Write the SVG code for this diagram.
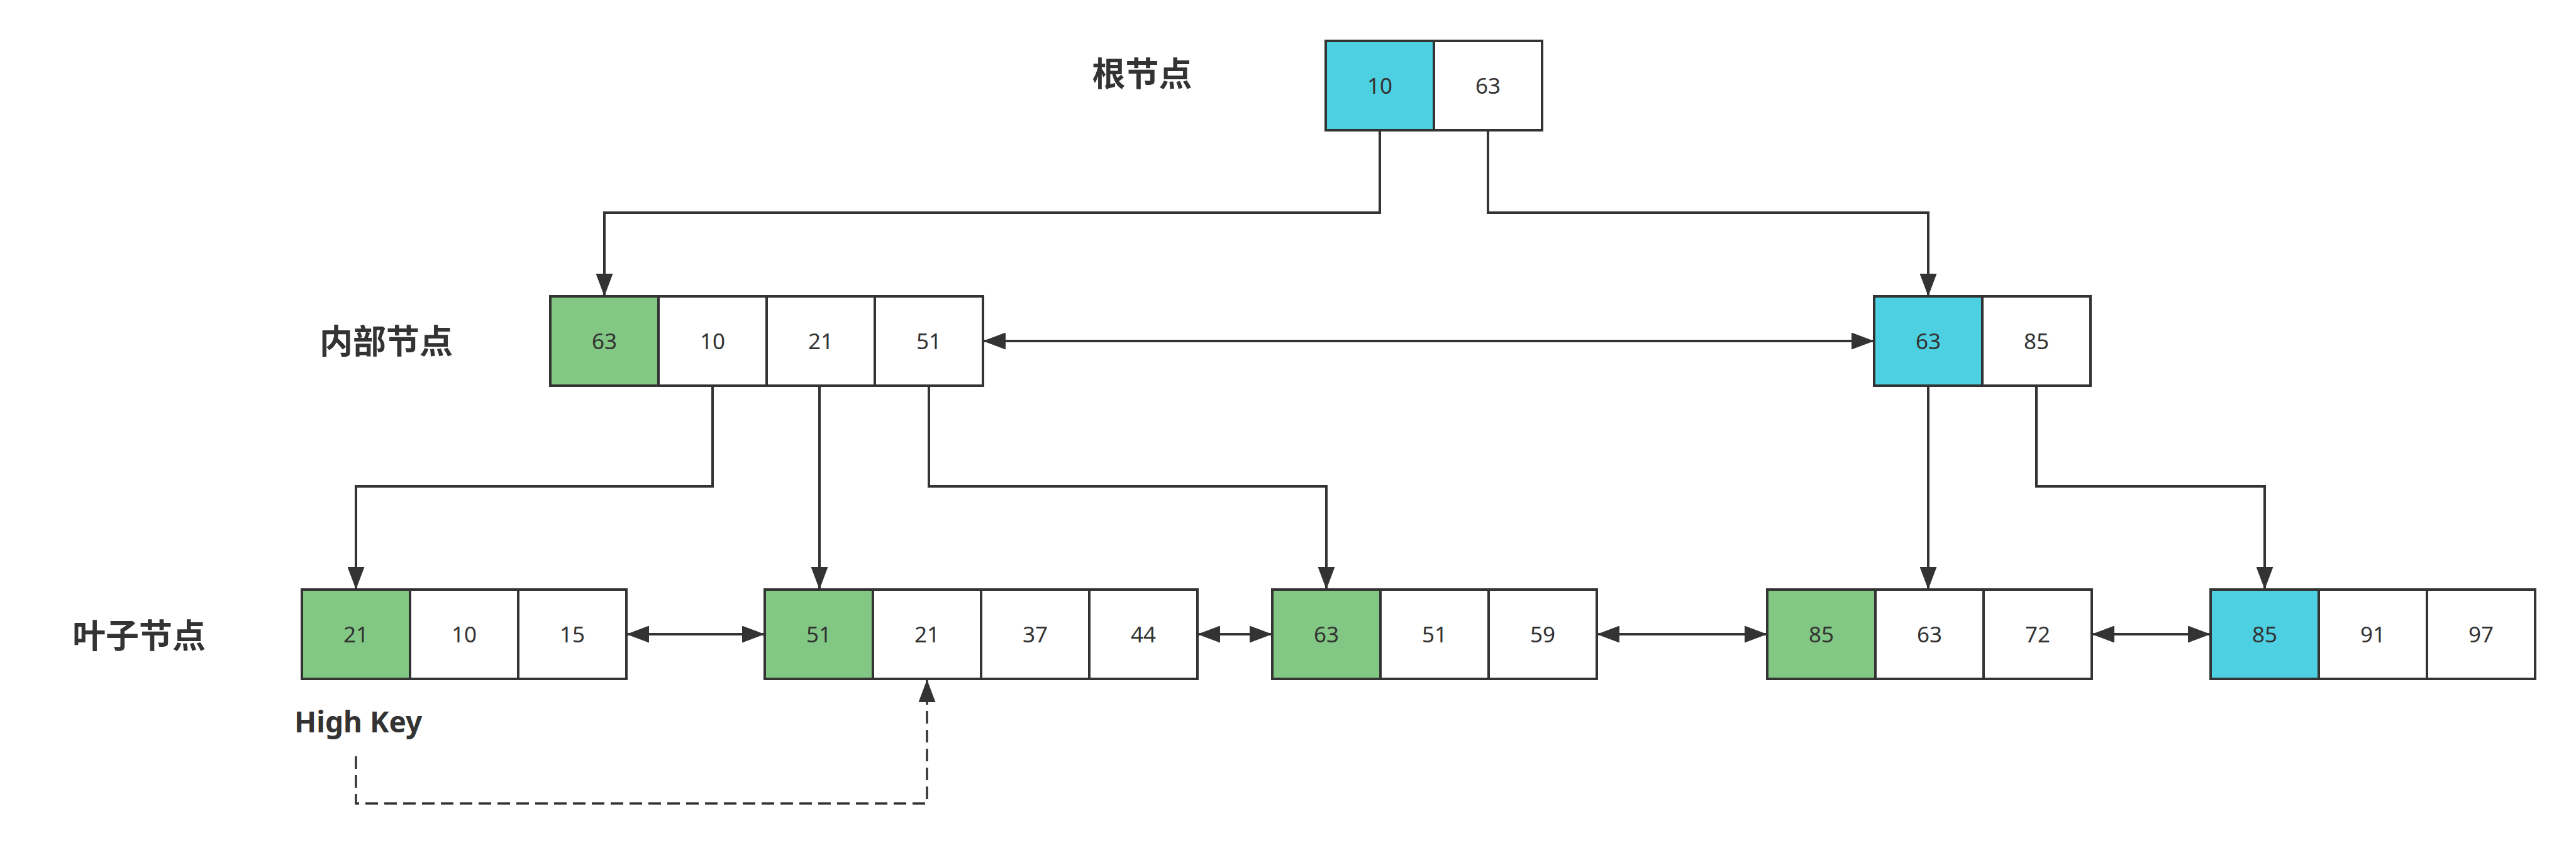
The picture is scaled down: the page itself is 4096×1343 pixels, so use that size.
<svg xmlns="http://www.w3.org/2000/svg" width="4096" height="1343" viewBox="0 0 4096 1343">
<style>
.c{stroke:#333333;stroke-width:4;fill:#ffffff}
.g{fill:#82C884}
.b{fill:#4DD0E1}
.n{font-family:"Noto Sans","DejaVu Sans",sans-serif;font-size:35px;fill:#333333;text-anchor:middle}
.lbl{font-family:"Noto Sans CJK SC","Noto Sans",sans-serif;font-size:53px;font-weight:bold;fill:#333333;text-anchor:middle}
.hk{font-family:"Noto Sans","DejaVu Sans",sans-serif;font-size:46px;font-weight:bold;fill:#333333}
.e{fill:none;stroke:#333333;stroke-width:4}
.d{fill:none;stroke:#333333;stroke-width:3.5;stroke-dasharray:20 10}
</style>
<defs>
<marker id="ah" markerUnits="userSpaceOnUse" markerWidth="36" markerHeight="27" refX="36" refY="13.5" orient="auto-start-reverse" viewBox="0 0 36 27">
<path d="M0,0 L36,13.5 L0,27 Z" fill="#333333"/>
</marker>
</defs>
<rect width="4096" height="1343" fill="#ffffff"/>

<g id="labels">
<text class="lbl" x="1816" y="137">根节点</text>
<text class="lbl" x="614" y="562">内部节点</text>
<text class="lbl" x="221" y="1030">叶子节点</text>
<text class="hk" x="468" y="1164">High Key</text>
</g>

<g id="connectors">
<path class="e" d="M2194,207 V338 H961 V471" marker-end="url(#ah)"/>
<path class="e" d="M2366,207 V338 H3066 V471" marker-end="url(#ah)"/>
<path class="e" d="M1563,542 H2980" marker-start="url(#ah)" marker-end="url(#ah)"/>
<path class="e" d="M1133,613 V773 H566 V937" marker-end="url(#ah)"/>
<path class="e" d="M1303,613 V937" marker-end="url(#ah)"/>
<path class="e" d="M1477,613 V773 H2109 V937" marker-end="url(#ah)"/>
<path class="e" d="M3066,613 V937" marker-end="url(#ah)"/>
<path class="e" d="M3238,613 V773 H3601 V937" marker-end="url(#ah)"/>
<path class="e" d="M996,1008 H1216" marker-start="url(#ah)" marker-end="url(#ah)"/>
<path class="e" d="M1904,1008 H2023" marker-start="url(#ah)" marker-end="url(#ah)"/>
<path class="e" d="M2539,1008 H2810" marker-start="url(#ah)" marker-end="url(#ah)"/>
<path class="e" d="M3326,1008 H3515" marker-start="url(#ah)" marker-end="url(#ah)"/>
<path class="d" d="M566,1202 V1277 H1474 V1080" marker-end="url(#ah)"/>
</g>

<g id="root">
<rect class="c b" x="2108" y="65" width="172" height="142"/>
<rect class="c" x="2280" y="65" width="172" height="142"/>
<text class="n" x="2194" y="148.5">10</text>
<text class="n" x="2366" y="148.5">63</text>
</g>

<g id="internal-left">
<rect class="c g" x="875" y="471" width="172" height="142"/>
<rect class="c" x="1047" y="471" width="172" height="142"/>
<rect class="c" x="1219" y="471" width="172" height="142"/>
<rect class="c" x="1391" y="471" width="172" height="142"/>
<text class="n" x="961" y="554.5">63</text>
<text class="n" x="1133" y="554.5">10</text>
<text class="n" x="1305" y="554.5">21</text>
<text class="n" x="1477" y="554.5">51</text>
</g>

<g id="internal-right">
<rect class="c b" x="2980" y="471" width="172" height="142"/>
<rect class="c" x="3152" y="471" width="172" height="142"/>
<text class="n" x="3066" y="554.5">63</text>
<text class="n" x="3238" y="554.5">85</text>
</g>

<g id="leaf-1">
<rect class="c g" x="480" y="937" width="172" height="142"/>
<rect class="c" x="652" y="937" width="172" height="142"/>
<rect class="c" x="824" y="937" width="172" height="142"/>
<text class="n" x="566" y="1020.5">21</text>
<text class="n" x="738" y="1020.5">10</text>
<text class="n" x="910" y="1020.5">15</text>
</g>

<g id="leaf-2">
<rect class="c g" x="1216" y="937" width="172" height="142"/>
<rect class="c" x="1388" y="937" width="172" height="142"/>
<rect class="c" x="1560" y="937" width="172" height="142"/>
<rect class="c" x="1732" y="937" width="172" height="142"/>
<text class="n" x="1302" y="1020.5">51</text>
<text class="n" x="1474" y="1020.5">21</text>
<text class="n" x="1646" y="1020.5">37</text>
<text class="n" x="1818" y="1020.5">44</text>
</g>

<g id="leaf-3">
<rect class="c g" x="2023" y="937" width="172" height="142"/>
<rect class="c" x="2195" y="937" width="172" height="142"/>
<rect class="c" x="2367" y="937" width="172" height="142"/>
<text class="n" x="2109" y="1020.5">63</text>
<text class="n" x="2281" y="1020.5">51</text>
<text class="n" x="2453" y="1020.5">59</text>
</g>

<g id="leaf-4">
<rect class="c g" x="2810" y="937" width="172" height="142"/>
<rect class="c" x="2982" y="937" width="172" height="142"/>
<rect class="c" x="3154" y="937" width="172" height="142"/>
<text class="n" x="2896" y="1020.5">85</text>
<text class="n" x="3068" y="1020.5">63</text>
<text class="n" x="3240" y="1020.5">72</text>
</g>

<g id="leaf-5">
<rect class="c b" x="3515" y="937" width="172" height="142"/>
<rect class="c" x="3687" y="937" width="172" height="142"/>
<rect class="c" x="3859" y="937" width="172" height="142"/>
<text class="n" x="3601" y="1020.5">85</text>
<text class="n" x="3773" y="1020.5">91</text>
<text class="n" x="3945" y="1020.5">97</text>
</g>
</svg>
